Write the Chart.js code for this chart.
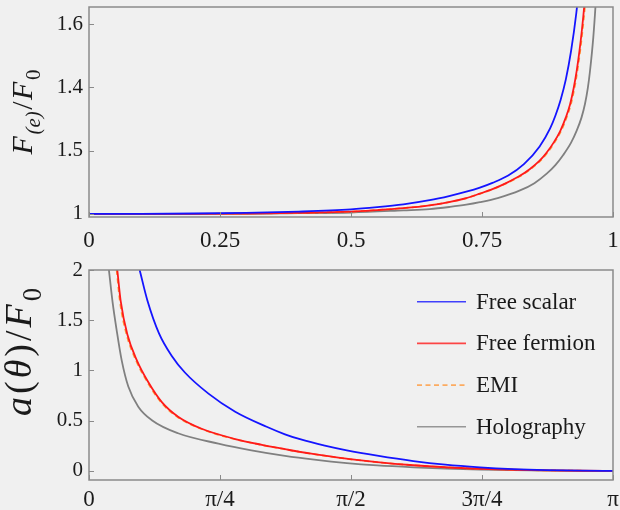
<!DOCTYPE html>
<html>
<head>
<meta charset="utf-8">
<script src="https://cdn.jsdelivr.net/npm/chart.js@4.4.1/dist/chart.umd.min.js"></script>
<style>
  html, body { margin: 0; padding: 0; background: #f0f0f0; }
  canvas { display: block; }
</style>
</head>
<body>
<canvas id="topChart" width="620" height="255"></canvas>
<canvas id="bottomChart" width="620" height="255"></canvas>
<script>
const seriesNames = ['Free scalar', 'Free fermion', 'EMI', 'Holography'];

// top panel: F_(e)/F_0 against x
const topXTicks = [0, 0.25, 0.5, 0.75, 1];
const topXLabels = ['0', '0.25', '0.5', '0.75', '1'];
const topYTicks = [1, 1.2, 1.4, 1.6];
const topYLabels = ['1', '1.5', '1.4', '1.6'];

const scalarTopX = [0, 0.1, 0.2, 0.3, 0.4, 0.5, 0.55, 0.6, 0.65, 0.689, 0.72, 0.746, 0.77, 0.8, 0.83, 0.86, 0.88, 0.89, 0.9, 0.91, 0.92, 0.93, 0.935];
const scalarTopY = [1, 1, 1.001, 1.003, 1.007, 1.014, 1.021, 1.03, 1.043, 1.057, 1.07, 1.083, 1.098, 1.121, 1.157, 1.213, 1.27, 1.31, 1.36, 1.425, 1.515, 1.635, 1.715];
const fermionTopX = [0, 0.1, 0.2, 0.3, 0.4, 0.5, 0.55, 0.6, 0.65, 0.689, 0.72, 0.746, 0.77, 0.797, 0.82, 0.8416, 0.86, 0.8735, 0.887, 0.899, 0.91, 0.918, 0.925, 0.9307, 0.936, 0.9407, 0.9455, 0.949];
const fermionTopY = [1, 1, 1, 1.001, 1.003, 1.007, 1.012, 1.018, 1.027, 1.038, 1.05, 1.064, 1.078, 1.098, 1.118, 1.142, 1.168, 1.194, 1.226, 1.261, 1.305, 1.346, 1.398, 1.452, 1.515, 1.582, 1.663, 1.735];
const emiTopX = [0, 0.1, 0.2, 0.3, 0.4, 0.5, 0.55, 0.6, 0.65, 0.69, 0.721, 0.747, 0.771, 0.7985, 0.8215, 0.843, 0.8615, 0.875, 0.8885, 0.9005, 0.9115, 0.9195, 0.9265, 0.932, 0.9373, 0.942, 0.9468, 0.9502];
const emiTopY = [1, 1, 1, 1.001, 1.003, 1.007, 1.012, 1.018, 1.027, 1.038, 1.05, 1.064, 1.078, 1.098, 1.118, 1.142, 1.168, 1.194, 1.226, 1.261, 1.305, 1.346, 1.398, 1.452, 1.515, 1.582, 1.663, 1.735];
const holoTopX = [0, 0.1, 0.2, 0.3, 0.4, 0.5, 0.6, 0.65, 0.689, 0.72, 0.746, 0.78, 0.8225, 0.85, 0.8735, 0.89, 0.905, 0.92, 0.9307, 0.94, 0.9466, 0.952, 0.956, 0.9624, 0.9668, 0.969];
const holoTopY = [1, 1, 1, 1, 1.002, 1.004, 1.011, 1.015, 1.022, 1.029, 1.037, 1.05, 1.074, 1.097, 1.127, 1.154, 1.186, 1.225, 1.263, 1.305, 1.348, 1.398, 1.45, 1.558, 1.663, 1.73];

// bottom panel: a(theta)/F_0, theta in units of pi
const botXTicks = [0, 0.25, 0.5, 0.75, 1];
const botXLabels = ['0', 'π/4', 'π/2', '3π/4', 'π'];
const botYTicks = [0, 0.5, 1, 1.5, 2];
const botYLabels = ['0', '0.5', '1', '1.5', '2'];

const scalarBotX = [0.0967, 0.1113, 0.1336, 0.158, 0.183, 0.228, 0.279, 0.339, 0.374, 0.4027, 0.45, 0.492, 0.55, 0.619, 0.68, 0.746, 0.81, 0.873, 0.94, 1];
const scalarBotY = [2.0, 1.70, 1.37, 1.145, 0.98, 0.77, 0.59, 0.44, 0.365, 0.316, 0.252, 0.205, 0.152, 0.098, 0.062, 0.036, 0.019, 0.009, 0.003, 0];
const fermionBotX = [0.054, 0.0605, 0.0731, 0.0922, 0.1113, 0.139, 0.17, 0.215, 0.279, 0.33, 0.374, 0.4027, 0.45, 0.498, 0.55, 0.619, 0.68, 0.746, 0.81, 0.873, 0.94, 1];
const fermionBotY = [2.0, 1.69, 1.36, 1.09, 0.9, 0.685, 0.54, 0.42, 0.318, 0.26, 0.217, 0.19, 0.152, 0.118, 0.088, 0.057, 0.037, 0.022, 0.012, 0.006, 0.002, 0];
const emiBotX = [0.0528, 0.059, 0.0716, 0.0906, 0.1097, 0.1373, 0.1683, 0.2133, 0.2772, 0.3285, 0.3725, 0.4012, 0.4485, 0.4965, 0.5485, 0.6175, 0.6785, 0.7445, 0.8085, 0.8715, 0.9385, 1];
const emiBotY = [2.0, 1.69, 1.36, 1.09, 0.9, 0.685, 0.54, 0.42, 0.318, 0.26, 0.217, 0.19, 0.152, 0.118, 0.088, 0.057, 0.037, 0.022, 0.012, 0.006, 0.002, 0];
const holoBotX = [0.038, 0.045, 0.0528, 0.0624, 0.075, 0.094, 0.12, 0.17, 0.247, 0.31, 0.374, 0.43, 0.492, 0.55, 0.619, 0.68, 0.746, 0.81, 0.873, 0.94, 1];
const holoBotY = [2.0, 1.68, 1.40, 1.10, 0.84, 0.64, 0.505, 0.375, 0.272, 0.205, 0.15, 0.112, 0.078, 0.055, 0.036, 0.023, 0.014, 0.008, 0.004, 0.001, 0];

const serif = "'Liberation Serif', 'DejaVu Serif', serif";
const textColor = '#1a1a1a';
const frameColor = '#8a8a8a';
const lineColors = ['#1414ff', '#ff1a1a', '#ff9a3c', '#808080'];
const lineDashes = [[], [], [5, 3.5], []];

function series(i, xs, ys) {
  return {
    label: seriesNames[i],
    data: xs.map((x, k) => ({ x: x, y: ys[k] })),
    borderColor: lineColors[i],
    borderDash: lineDashes[i],
    borderWidth: 1.8,
    pointRadius: 0,
    fill: false,
    cubicInterpolationMode: 'monotone'
  };
}

// linear axis with fixed ticks; fit sets the exact box size, no label overhang
function axis(min, max, values, labels, size, pad, fit) {
  return {
    type: 'linear',
    min: min,
    max: max,
    grid: { display: false, drawTicks: false },
    border: { display: false },
    afterBuildTicks: s => { s.ticks = values.map(v => ({ value: v })); },
    afterFit: s => {
      fit(s);
      s.paddingLeft = 0; s.paddingRight = 0;
      s.paddingTop = 0; s.paddingBottom = 0;
    },
    ticks: {
      callback: (v, i) => labels[i],
      font: { family: serif, size: size },
      color: textColor,
      padding: pad,
      maxRotation: 0,
      autoSkip: false
    }
  };
}

// frame round the plot area and short inward ticks
const framePlugin = {
  id: 'frame',
  afterDatasetsDraw(chart) {
    const { ctx, chartArea: a, scales } = chart;
    ctx.save();
    ctx.strokeStyle = frameColor;
    ctx.lineWidth = 1.5;
    ctx.strokeRect(a.left, a.top, a.right - a.left, a.bottom - a.top);
    ctx.lineWidth = 1;
    ctx.beginPath();
    scales.x.ticks.forEach(t => {
      const px = Math.round(scales.x.getPixelForValue(t.value)) + 0.5;
      ctx.moveTo(px, a.bottom);
      ctx.lineTo(px, a.bottom - 5);
    });
    scales.y.ticks.forEach(t => {
      const py = Math.round(scales.y.getPixelForValue(t.value)) + 0.5;
      ctx.moveTo(a.left, py);
      ctx.lineTo(a.left + 5, py);
    });
    ctx.stroke();
    ctx.restore();
  }
};

// rotated y title built from italic / subscript parts
const axisTitlePlugin = {
  id: 'axisTitle',
  afterDraw(chart, args, opts) {
    const ctx = chart.ctx;
    const size = opts.size, subSize = size * 0.7;
    const fontOf = p => (p.it ? 'italic ' : '') + (p.sub ? subSize : size) + 'px ' + serif;
    ctx.save();
    let total = 0;
    opts.parts.forEach(p => { ctx.font = fontOf(p); total += ctx.measureText(p.t).width + opts.gap; });
    total -= opts.gap;
    ctx.translate(opts.x, opts.y);
    ctx.rotate(-Math.PI / 2);
    ctx.fillStyle = textColor;
    ctx.textBaseline = 'alphabetic';
    let pos = -total / 2;
    opts.parts.forEach(p => {
      ctx.font = fontOf(p);
      ctx.fillText(p.t, pos, p.sub ? size * 0.25 : 0);
      pos += ctx.measureText(p.t).width + opts.gap;
    });
    ctx.restore();
  }
};

// legend inside the lower plot
const legendPlugin = {
  id: 'insideLegend',
  afterDraw(chart, args, opts) {
    const ctx = chart.ctx;
    ctx.save();
    ctx.font = opts.size + 'px ' + serif;
    ctx.textBaseline = 'middle';
    chart.data.datasets.forEach((ds, i) => {
      const y = opts.top + i * opts.gap;
      ctx.strokeStyle = ds.borderColor;
      ctx.globalAlpha = 0.8;
      ctx.lineWidth = 1.6;
      ctx.setLineDash(ds.borderDash || []);
      ctx.beginPath();
      ctx.moveTo(opts.x1, y);
      ctx.lineTo(opts.x2, y);
      ctx.stroke();
      ctx.globalAlpha = 1;
      ctx.setLineDash([]);
      ctx.fillStyle = textColor;
      ctx.fillText(ds.label, opts.textX, y + 1);
    });
    ctx.restore();
  }
};

new Chart(document.getElementById('topChart'), {
  type: 'line',
  data: {
    datasets: [
      series(0, scalarTopX, scalarTopY),
      series(1, fermionTopX, fermionTopY),
      series(2, emiTopX, emiTopY),
      series(3, holoTopX, holoTopY)
    ]
  },
  options: {
    responsive: false,
    animation: false,
    layout: { padding: { top: 7, right: 7, left: 0, bottom: 0 } },
    plugins: {
      legend: { display: false },
      tooltip: { enabled: false },
      axisTitle: {
        x: 32, y: 112, size: 30, gap: 1.5,
        parts: [
          { t: 'F', it: true }, { t: '(e)', it: true, sub: true },
          { t: '/' }, { t: 'F', it: true }, { t: '0', sub: true }
        ]
      }
    },
    scales: {
      x: axis(0, 1, topXTicks, topXLabels, 23, 10, s => { s.height = 38; }),
      y: axis(0.99, 1.654, topYTicks, topYLabels, 21, 6, s => { s.width = 89; })
    }
  },
  plugins: [framePlugin, axisTitlePlugin]
});

new Chart(document.getElementById('bottomChart'), {
  type: 'line',
  data: {
    datasets: [
      series(0, scalarBotX, scalarBotY),
      series(1, fermionBotX, fermionBotY),
      series(2, emiBotX, emiBotY),
      series(3, holoBotX, holoBotY)
    ]
  },
  options: {
    responsive: false,
    animation: false,
    layout: { padding: { top: 15, right: 7, left: 0, bottom: 0 } },
    plugins: {
      legend: { display: false },
      tooltip: { enabled: false },
      axisTitle: {
        x: 31, y: 97, size: 38, gap: 3,
        parts: [
          { t: 'a', it: true }, { t: '(' }, { t: 'θ', it: true }, { t: ')' },
          { t: '/' }, { t: 'F', it: true }, { t: '0', sub: true }
        ]
      },
      insideLegend: { x1: 417, x2: 466, textX: 476, top: 46.7, gap: 41.7, size: 23 }
    },
    scales: {
      x: axis(0, 1, botXTicks, botXLabels, 23, 6, s => { s.height = 30; }),
      y: axis(-0.09, 2, botYTicks, botYLabels, 21, 6, s => { s.width = 89; })
    }
  },
  plugins: [framePlugin, axisTitlePlugin, legendPlugin]
});
</script>
</body>
</html>
